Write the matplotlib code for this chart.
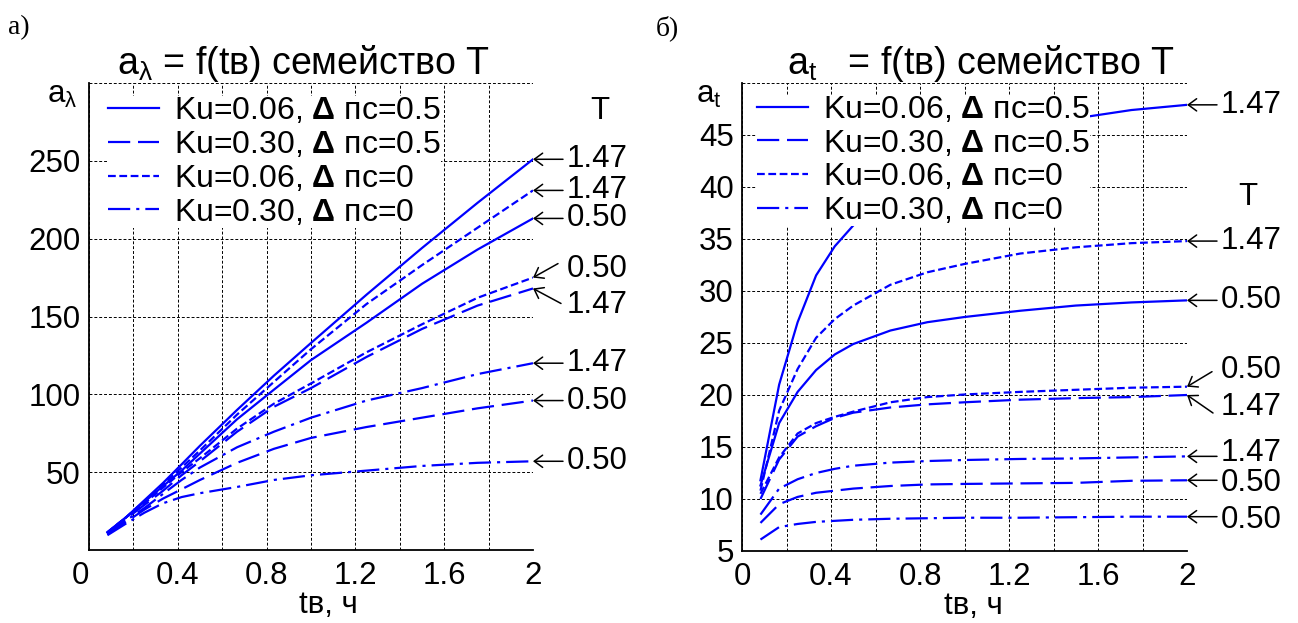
import numpy as np
import matplotlib
matplotlib.use("Agg")
import matplotlib.pyplot as plt

plt.rcParams['font.family'] = ['Liberation Sans', 'DejaVu Sans']
plt.rcParams['mathtext.fontset'] = 'custom'
plt.rcParams['mathtext.rm'] = 'Liberation Sans'
plt.rcParams['mathtext.it'] = 'Liberation Sans:italic'
plt.rcParams['mathtext.bf'] = 'Liberation Sans:bold'

# time, h (5-minute steps, thinned)
t = [0.083, 0.167, 0.25, 0.333, 0.417, 0.5, 0.667, 0.833, 1.0, 1.25, 1.5, 1.75, 2.0]

# panel a) a_lambda
al_s147 = [11.5, 21, 32, 43, 55, 67, 90, 112, 133, 164, 194, 223, 251]
al_s050 = [11.3, 21, 31, 41, 51, 62, 84, 103, 122, 146, 171, 193, 213]
al_o147 = [11.3, 21, 31.5, 42, 53, 64, 87, 108, 129, 158, 183, 207, 231]
al_o050 = [11, 21, 30, 40, 50, 59, 78, 94, 107, 127, 145, 162, 175]
al_d147 = [10.5, 20, 29, 38, 48, 57, 76, 92, 104, 124, 142, 157, 168]
al_d050 = [10, 18, 26, 33, 39, 45, 56, 65, 72, 79, 85, 91, 96]
al_dd147 = [10, 19, 27, 36, 45, 53, 66, 76, 85, 96, 104, 113, 120]
al_dd050 = [9.5, 17, 24, 30, 34, 36.5, 40.5, 45, 48, 51, 54, 56, 57]

# panel b) a_t
at_s147 = [11.8, 21.0, 27.0, 31.5, 34.3, 36.3, 39.5, 41.8, 43.5, 45.4, 46.6, 47.4, 47.9]
at_s050 = [11.3, 17.3, 20.3, 22.4, 23.9, 24.9, 26.2, 27.0, 27.5, 28.1, 28.6, 28.9, 29.1]
at_o147 = [10.8, 18.5, 22.5, 25.5, 27.3, 28.6, 30.6, 31.8, 32.6, 33.6, 34.2, 34.6, 34.8]
at_o050 = [10.5, 14.0, 16.3, 17.3, 17.9, 18.4, 19.3, 19.8, 20.05, 20.3, 20.5, 20.7, 20.8]
at_d147 = [10.0, 13.8, 16.0, 17.0, 17.8, 18.3, 18.8, 19.1, 19.3, 19.55, 19.7, 19.8, 20.0]
at_d050 = [7.7, 9.5, 10.2, 10.6, 10.8, 11.0, 11.25, 11.4, 11.45, 11.5, 11.55, 11.75, 11.8]
at_dd147 = [8.5, 11.0, 11.9, 12.5, 12.9, 13.2, 13.5, 13.65, 13.75, 13.85, 13.9, 14.0, 14.1]
at_dd050 = [6.1, 7.3, 7.6, 7.8, 7.9, 8.0, 8.1, 8.15, 8.2, 8.2, 8.25, 8.3, 8.3]

labels = ['Ku=0.06, $\\mathbf{\\Delta}$ пс=0.5',
          'Ku=0.30, $\\mathbf{\\Delta}$ пс=0.5',
          'Ku=0.06, $\\mathbf{\\Delta}$ пс=0',
          'Ku=0.30, $\\mathbf{\\Delta}$ пс=0']

FS = 22.5       # ticks, annotations
FS_LEG = 23
FS_TITLE = 27
BLUE = '#0000ff'
LW = 1.6
ls_solid = '-'
ls_dash = (0, (10, 3.5))
ls_dot = (0, (3.5, 1.6))
ls_dashdot = (0, (10, 2.7, 1.4, 2.7))

fig = plt.figure(figsize=(12.98, 6.23), dpi=100)
ax1 = fig.add_axes([89/1298, 1-550/623, 444/1298, 467/623])
ax2 = fig.add_axes([742/1298, 1-551/623, 445/1298, 468/623])


def setup(ax, ylim, yticks, ytop):
    ax.set_xlim(0, 2)
    ax.set_ylim(*ylim)
    ax.set_xticks([0, 0.4, 0.8, 1.2, 1.6, 2.0])
    ax.set_xticklabels(['0', '0.4', '0.8', '1.2', '1.6', '2'])
    ax.set_xticks([0.2, 0.6, 1.0, 1.4, 1.8], minor=True)
    ax.set_yticks(yticks)
    ax.set_yticks([ytop], minor=True)
    ax.grid(True, which='both', color='k', linestyle=(0, (3, 2)), linewidth=0.7)
    ax.set_axisbelow(True)
    for s in ['top', 'right']:
        ax.spines[s].set_visible(False)
    for s in ['left', 'bottom']:
        ax.spines[s].set_linewidth(1.3)
    ax.tick_params(which='both', direction='in', length=0, labelsize=FS)
    ax.tick_params(axis='x', pad=8)
    ax.tick_params(axis='y', pad=6)
    ax.set_xlabel('tв, ч', fontsize=FS)


def mark(ax, v, s, dy=0, tail=(30, 0)):
    ax.annotate('', xy=(2, v), xytext=tail, textcoords='offset pixels',
                arrowprops=dict(arrowstyle='->,head_length=0.3,head_width=0.22',
                                color='k', lw=1.1, shrinkA=0, shrinkB=0,
                                mutation_scale=20),
                annotation_clip=False)
    ax.annotate(s, xy=(2, v), xytext=(34, dy), textcoords='offset pixels',
                ha='left', va='center', fontsize=FS, annotation_clip=False)


# ---- panel a)
setup(ax1, (0, 300), [50, 100, 150, 200, 250], 300)
h1 = ax1.plot(t, al_s147, color=BLUE, lw=LW, ls=ls_solid)[0]
ax1.plot(t, al_s050, color=BLUE, lw=LW, ls=ls_solid)
h2 = ax1.plot(t, al_d147, color=BLUE, lw=LW, ls=ls_dash)[0]
ax1.plot(t, al_d050, color=BLUE, lw=LW, ls=ls_dash)
h3 = ax1.plot(t, al_o147, color=BLUE, lw=LW, ls=ls_dot)[0]
ax1.plot(t, al_o050, color=BLUE, lw=LW, ls=ls_dot)
h4 = ax1.plot(t, al_dd147, color=BLUE, lw=LW, ls=ls_dashdot)[0]
ax1.plot(t, al_dd050, color=BLUE, lw=LW, ls=ls_dashdot)
ax1.get_xticklabels()[0].set_ha('right')

ax1.text(0.482, 1.019, 'a$_\\mathrm{\\lambda}$ = f(tв) семейство T',
         transform=ax1.transAxes, fontsize=FS_TITLE, ha='center', va='baseline')
ax1.text(-0.06, 0.975, 'a$_\\mathrm{\\lambda}$', transform=ax1.transAxes,
         fontsize=FS, ha='center', va='center')
ax1.text(1.15, 0.94, 'T', transform=ax1.transAxes, fontsize=FS,
         ha='center', va='center')
ax1.xaxis.set_label_coords(0.54, -0.085)

mark(ax1, al_s147[-1], '1.47')
mark(ax1, al_o147[-1], '1.47')
mark(ax1, al_s050[-1], '0.50')
mark(ax1, al_o050[-1], '0.50', dy=9, tail=(25, 14))
mark(ax1, al_d147[-1], '1.47', dy=-17, tail=(28, -15))
mark(ax1, al_dd147[-1], '1.47')
mark(ax1, al_d050[-1], '0.50')
mark(ax1, al_dd050[-1], '0.50')

# ---- panel b)
setup(ax2, (5, 50), [5, 10, 15, 20, 25, 30, 35, 40, 45], 50)
ax2.plot(t, at_s147, color=BLUE, lw=LW, ls=ls_solid)
ax2.plot(t, at_s050, color=BLUE, lw=LW, ls=ls_solid)
ax2.plot(t, at_d147, color=BLUE, lw=LW, ls=ls_dash)
ax2.plot(t, at_d050, color=BLUE, lw=LW, ls=ls_dash)
ax2.plot(t, at_o147, color=BLUE, lw=LW, ls=ls_dot)
ax2.plot(t, at_o050, color=BLUE, lw=LW, ls=ls_dot)
ax2.plot(t, at_dd147, color=BLUE, lw=LW, ls=ls_dashdot)
ax2.plot(t, at_dd050, color=BLUE, lw=LW, ls=ls_dashdot)

ax2.text(0.101, 1.019, 'a$_\\mathrm{t}$   = f(tв) семейство T',
         transform=ax2.transAxes, fontsize=FS_TITLE, ha='left', va='baseline')
ax2.text(-0.074, 0.974, 'a$_\\mathrm{t}$', transform=ax2.transAxes,
         fontsize=FS, ha='center', va='center')
ax2.text(1.137, 0.756, 'T', transform=ax2.transAxes, fontsize=FS,
         ha='center', va='center')
ax2.xaxis.set_label_coords(0.52, -0.085)

mark(ax2, at_s147[-1], '1.47')
mark(ax2, at_o147[-1], '1.47')
mark(ax2, at_s050[-1], '0.50')
mark(ax2, at_o050[-1], '0.50', dy=17, tail=(25, 15))
mark(ax2, at_d147[-1], '1.47', dy=-12, tail=(26, -18))
mark(ax2, at_dd147[-1], '1.47', dy=3)
mark(ax2, at_d050[-1], '0.50', dy=-3)
mark(ax2, at_dd050[-1], '0.50', dy=-3)

for ax, anchor in ((ax1, (0.043, 0.972)), (ax2, (0.034, 0.975))):
    ax.legend([h1, h2, h3, h4], labels, loc='upper left',
              bbox_to_anchor=anchor, fontsize=FS_LEG, frameon=True,
              fancybox=False, framealpha=1, facecolor='white',
              edgecolor='none', handlelength=1.6, handletextpad=0.45,
              labelspacing=0.12, borderpad=0.0, borderaxespad=0.0)

fig.text(0.006, 0.975, 'а)', family='Liberation Serif', fontsize=20,
         ha='left', va='top')
fig.text(0.505, 0.975, 'б)', family='Liberation Serif', fontsize=20,
         ha='left', va='top')

fig.savefig('out.png', dpi=100)
